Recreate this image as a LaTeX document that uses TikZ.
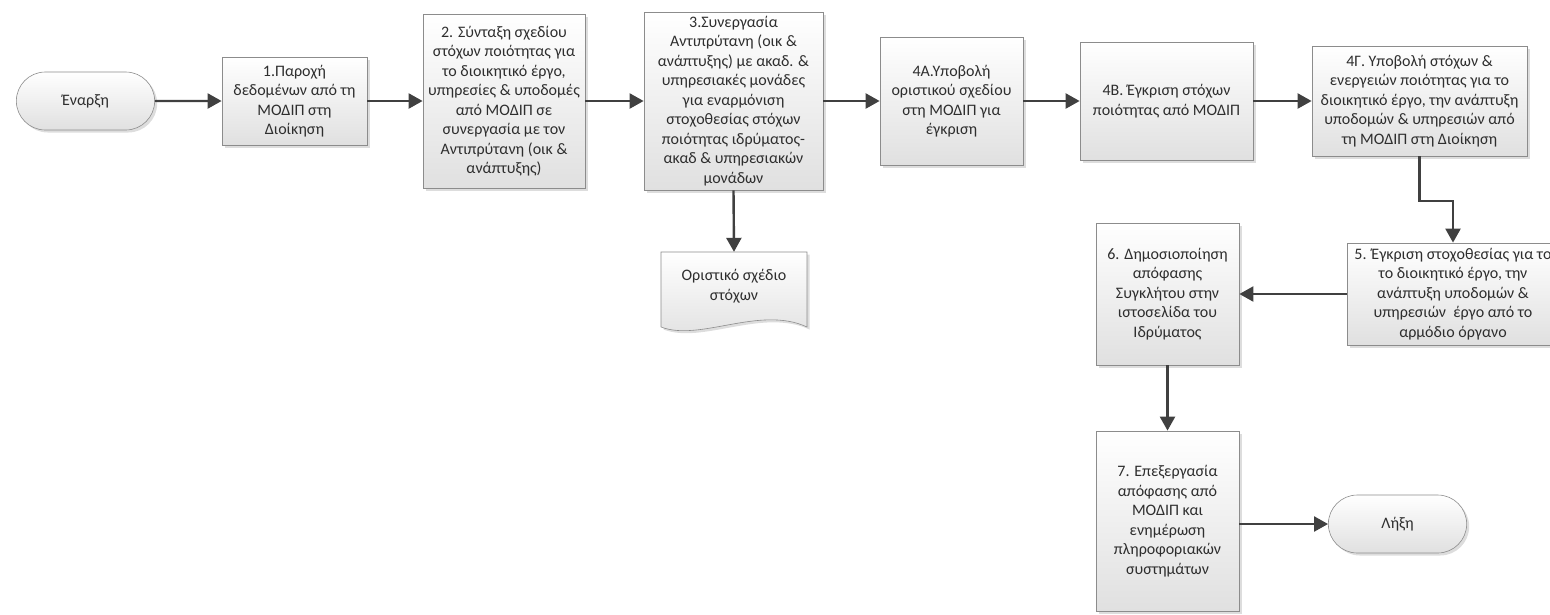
\documentclass[tikz,border=0pt]{standalone}
\usepackage{fontspec}
\setmainfont{Carlito}
\usetikzlibrary{arrows.meta,shapes.misc,shadows}
\definecolor{txt}{HTML}{2E2E2E}
\definecolor{edgec}{HTML}{404040}
\definecolor{bord}{HTML}{8C8C8C}
\definecolor{fillb}{HTML}{E0E0E0}
\begin{document}
\begin{tikzpicture}[x=1pt,y=-1pt,
  every node/.style={font=\fontsize{16}{19.5}\selectfont, text=txt, align=center},
  shad/.style={drop shadow={shadow xshift=2.5pt, shadow yshift=-2.5pt, fill=black!22, opacity=0.6}},
  proc/.style={draw=bord, line width=0.8pt, top color=white, bottom color=fillb, shad, inner xsep=1pt, inner ysep=2pt},
  term/.style={rounded rectangle, draw=bord, line width=0.6pt, top color=white, bottom color=fillb, shad, minimum width=145pt, minimum height=58pt},
  arr/.style={draw=edgec, line width=2.4pt, -{Triangle[length=14pt,width=15pt]}}
]
\useasboundingbox (0,0) rectangle (1550,614);

\node[term] (start) at (85.5,101) {Έναρξη};
\node[proc, minimum width=145pt, minimum height=88pt] (b1) at (294.5,101)
  {1.Παροχή\\δεδομένων από τη\\ΜΟΔΙΠ στη\\Διοίκηση};
\node[proc, minimum width=162pt, minimum height=174pt] (b2) at (504,101)
  {2. Σύνταξη σχεδίου\\στόχων ποιότητας για\\το διοικητικό έργο,\\υπηρεσίες \& υποδομές\\από ΜΟΔΙΠ σε\\συνεργασία με τον\\Αντιπρύτανη (οικ \&\\ανάπτυξης)};
\node[proc, minimum width=179pt, minimum height=178pt] (b3) at (733.5,101)
  {3.Συνεργασία\\Αντιπρύτανη (οικ \&\\ανάπτυξης) με ακαδ. \&\\υπηρεσιακές μονάδες\\για εναρμόνιση\\στοχοθεσίας στόχων\\ποιότητας ιδρύματος-\\ακαδ \& υπηρεσιακών\\μονάδων};

% document shape
\path[draw=bord, line width=0.6pt, top color=white, bottom color=fillb, shad]
  (661,252) -- (807,252) -- (807,327)
  .. controls (760,305) and (700,342) .. (661,327) -- cycle;
\node[minimum width=146pt, minimum height=68pt, inner sep=0pt] (doc) at (734,286)
  {Οριστικό σχέδιο\\στόχων};

\node[proc, minimum width=143pt, minimum height=128pt] (b4a) at (951.5,101)
  {4A.Υποβολή\\οριστικού σχεδίου\\στη ΜΟΔΙΠ για\\έγκριση};
\node[proc, minimum width=173pt, minimum height=118pt] (b4b) at (1166.5,101)
  {4B. Έγκριση στόχων\\ποιότητας από ΜΟΔΙΠ};
\node[proc, minimum width=215pt, minimum height=110pt] (b4g) at (1419.5,101)
  {4Γ. Υποβολή στόχων \&\\ενεργειών ποιότητας για το\\διοικητικό έργο, την ανάπτυξη\\υποδομών \& υπηρεσιών από\\τη ΜΟΔΙΠ στη Διοίκηση};
\node[proc, minimum width=212pt, minimum height=102pt] (b5) at (1453,294)
  {5. Έγκριση στοχοθεσίας για το\\το διοικητικό έργο, την\\ανάπτυξη υποδομών \&\\υπηρεσιών~ έργο από το\\αρμόδιο όργανο};
\node[proc, minimum width=143pt, minimum height=142pt] (b6) at (1167.5,294)
  {6. Δημοσιοποίηση\\απόφασης\\Συγκλήτου στην\\ιστοσελίδα του\\Ιδρύματος};
\node[proc, minimum width=143pt, minimum height=180pt] (b7) at (1167.5,521)
  {7. Επεξεργασία\\απόφασης από\\ΜΟΔΙΠ και\\ενημέρωση\\πληροφοριακών\\συστημάτων};
\node[term] (endn) at (1397.5,524) {Λήξη};

\coordinate (k1) at (1419.5,201);

\draw[arr] (start) -- (b1);
\draw[arr] (b1) -- (b2);
\draw[arr] (b2) -- (b3);
\draw[arr] (b3) -- (b4a);
\draw[arr] (b4a) -- (b4b);
\draw[arr] (b4b) -- (b4g);
\draw[arr] (b3.south) -- (doc.north);
\draw[arr] (b4g.south) -- (k1) -| (b5.north);
\draw[arr] (b5.west) -- (b6.east);
\draw[arr] (b6.south) -- (b7.north);
\draw[arr] (b7.east |- endn.west) -- (endn.west);
\end{tikzpicture}
\end{document}
